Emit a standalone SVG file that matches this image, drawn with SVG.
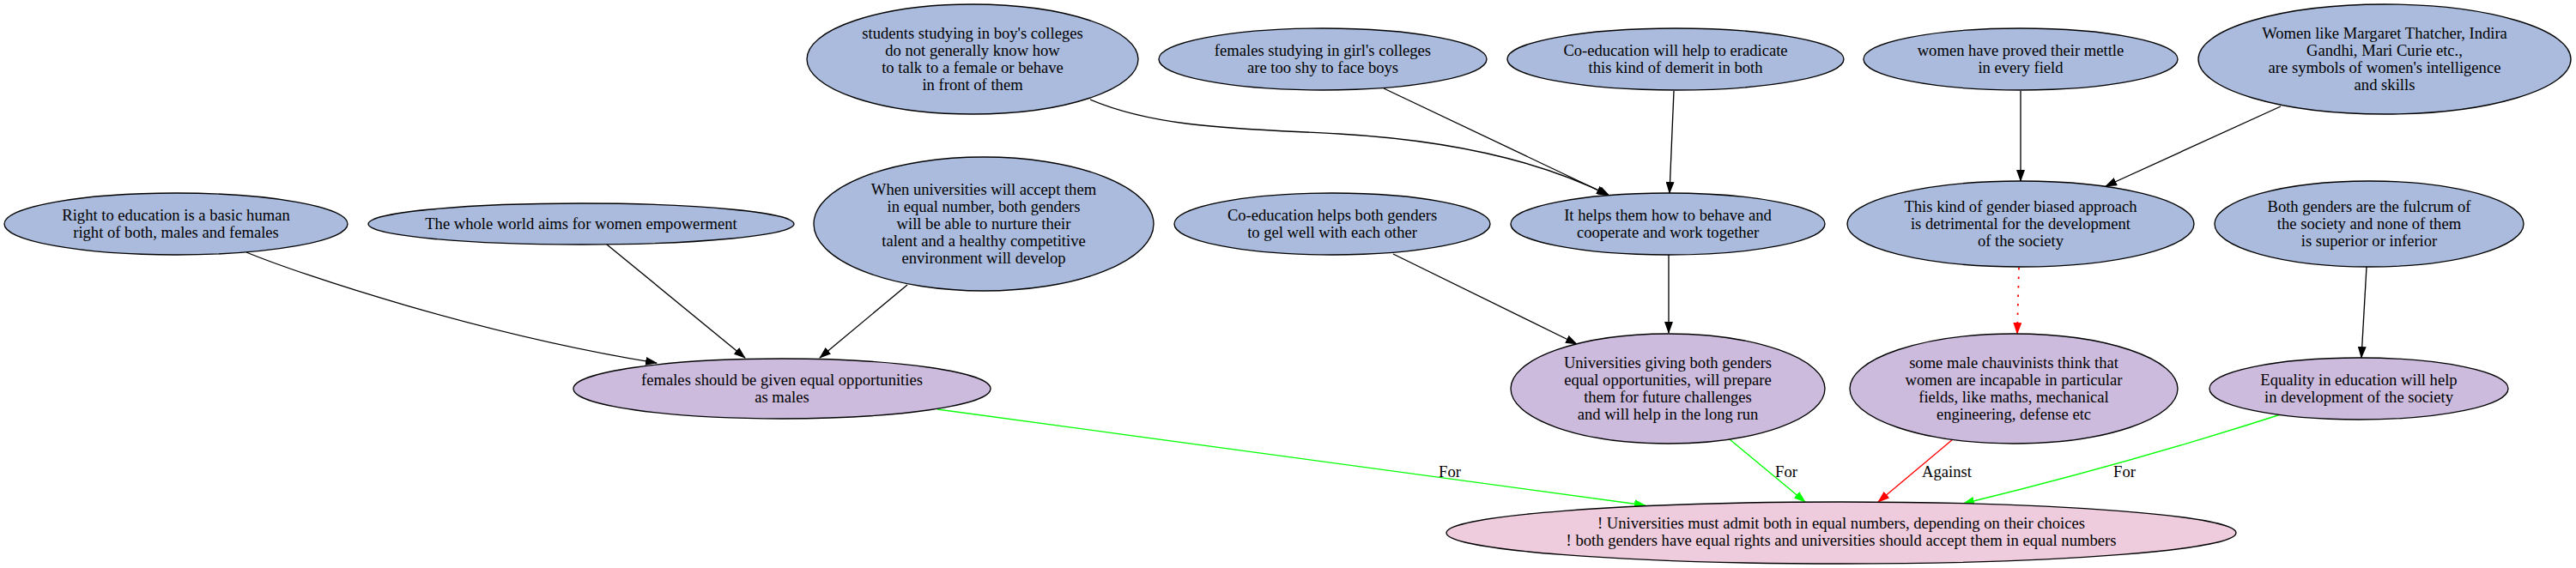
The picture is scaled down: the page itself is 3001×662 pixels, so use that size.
<svg xmlns="http://www.w3.org/2000/svg" width="3001" height="662" viewBox="0 0 3001 662">
<style>
text{font-family:"Liberation Serif","Times New Roman",serif;font-size:18.6px;fill:#000;text-anchor:middle}
.b{fill:#aabbdd;stroke:#000;stroke-width:1.33}
.p{fill:#ccbbdd;stroke:#000;stroke-width:1.33}
.k{fill:#eeccdd;stroke:#000;stroke-width:1.33}
.e{fill:none;stroke:#000;stroke-width:1.33}
.eb{marker-end:url(#ab)}
.g{fill:none;stroke:#00ff00;stroke-width:1.33;marker-end:url(#ag)}
.r{fill:none;stroke:#ff0000;stroke-width:1.33;marker-end:url(#ar)}
.d{stroke-dasharray:2.5 8;stroke-width:1.8}
</style>
<defs>
<marker id="ab" markerUnits="userSpaceOnUse" markerWidth="14" markerHeight="10" viewBox="0 0 14 10" refX="13" refY="5" orient="auto"><path d="M0,0 L14,5 L0,10 z" fill="#000"/></marker>
<marker id="ag" markerUnits="userSpaceOnUse" markerWidth="14" markerHeight="10" viewBox="0 0 14 10" refX="13" refY="5" orient="auto"><path d="M0,0 L14,5 L0,10 z" fill="#00ff00"/></marker>
<marker id="ar" markerUnits="userSpaceOnUse" markerWidth="14" markerHeight="10" viewBox="0 0 14 10" refX="13" refY="5" orient="auto"><path d="M0,0 L14,5 L0,10 z" fill="#ff0000"/></marker>
</defs>
<rect width="3001" height="662" fill="#fff"/>
<g id="connectors">
<path class="e eb" d="M1270,116 C1350,150 1450,150 1560,156 C1680,163 1790,185 1875,228"/>
<path class="e eb" d="M1612,103 L1873,227"/>
<path class="e eb" d="M1950,106 L1945,225"/>
<path class="e eb" d="M2354,106 L2354,211"/>
<path class="e eb" d="M2657,124 L2453,217"/>
<path class="e eb" d="M287,294 C350,320 560,390 765,423"/>
<path class="e eb" d="M707,285 L868,417"/>
<path class="e eb" d="M1057,332 L955,417"/>
<path class="e eb" d="M1623,296 L1837,401"/>
<path class="e eb" d="M1944,297 L1944,388"/>
<path class="r d" d="M2352,312 L2350,389"/>
<path class="e eb" d="M2757,311 L2751,417"/>
<path class="g" d="M1092,477 L1917,589"/>
<text x="1689" y="556">For</text>
<path class="g" d="M2015,512 L2103,585"/>
<text x="2081" y="556">For</text>
<path class="r" d="M2275,512 L2188,585"/>
<text x="2268" y="556">Against</text>
<path class="g" d="M2657,483 Q2480,540 2287,587"/>
<text x="2475" y="556">For</text>
</g>
<g id="n1"><ellipse class="b" cx="1133" cy="69" rx="193" ry="64"/><text x="1133" y="45">students studying in boy's colleges</text><text x="1133" y="65">do not generally know how</text><text x="1133" y="85">to talk to a female or behave</text><text x="1133" y="105">in front of them</text></g>
<g id="n2"><ellipse class="b" cx="1541" cy="69" rx="191" ry="36"/><text x="1541" y="65">females studying in girl's colleges</text><text x="1541" y="85">are too shy to face boys</text></g>
<g id="n3"><ellipse class="b" cx="1952" cy="69" rx="196" ry="36"/><text x="1952" y="65">Co-education will help to eradicate</text><text x="1952" y="85">this kind of demerit in both</text></g>
<g id="n4"><ellipse class="b" cx="2354" cy="69" rx="183" ry="36"/><text x="2354" y="65">women have proved their mettle</text><text x="2354" y="85">in every field</text></g>
<g id="n5"><ellipse class="b" cx="2778" cy="69" rx="217" ry="64"/><text x="2778" y="45">Women like Margaret Thatcher, Indira</text><text x="2778" y="65">Gandhi, Mari Curie etc.,</text><text x="2778" y="85">are symbols of women's intelligence</text><text x="2778" y="105">and skills</text></g>
<g id="n6"><ellipse class="b" cx="205" cy="261" rx="200" ry="36"/><text x="205" y="257">Right to education is a basic human</text><text x="205" y="277">right of both, males and females</text></g>
<g id="n7"><ellipse class="b" cx="677" cy="261" rx="248" ry="24"/><text x="677" y="267">The whole world aims for women empowerment</text></g>
<g id="n8"><ellipse class="b" cx="1146" cy="261" rx="198" ry="78"/><text x="1146" y="227">When universities will accept them</text><text x="1146" y="247">in equal number, both genders</text><text x="1146" y="267">will be able to nurture their</text><text x="1146" y="287">talent and a healthy competitive</text><text x="1146" y="307">environment will develop</text></g>
<g id="n9"><ellipse class="b" cx="1552" cy="261" rx="184" ry="36"/><text x="1552" y="257">Co-education helps both genders</text><text x="1552" y="277">to gel well with each other</text></g>
<g id="n10"><ellipse class="b" cx="1943" cy="261" rx="183" ry="36"/><text x="1943" y="257">It helps them how to behave and</text><text x="1943" y="277">cooperate and work together</text></g>
<g id="n11"><ellipse class="b" cx="2354" cy="261" rx="202" ry="50"/><text x="2354" y="247">This kind of gender biased approach</text><text x="2354" y="267">is detrimental for the development</text><text x="2354" y="287">of the society</text></g>
<g id="n12"><ellipse class="b" cx="2760" cy="261" rx="180" ry="50"/><text x="2760" y="247">Both genders are the fulcrum of</text><text x="2760" y="267">the society and none of them</text><text x="2760" y="287">is superior or inferior</text></g>
<g id="n13"><ellipse class="p" cx="911" cy="453" rx="243" ry="35"/><text x="911" y="449">females should be given equal opportunities</text><text x="911" y="469">as males</text></g>
<g id="n14"><ellipse class="p" cx="1943" cy="453" rx="183" ry="64"/><text x="1943" y="429">Universities giving both genders</text><text x="1943" y="449">equal opportunities, will prepare</text><text x="1943" y="469">them for future challenges</text><text x="1943" y="489">and will help in the long run</text></g>
<g id="n15"><ellipse class="p" cx="2346" cy="453" rx="191" ry="64"/><text x="2346" y="429">some male chauvinists think that</text><text x="2346" y="449">women are incapable in particular</text><text x="2346" y="469">fields, like maths, mechanical</text><text x="2346" y="489">engineering, defense etc</text></g>
<g id="n16"><ellipse class="p" cx="2748" cy="453" rx="174" ry="36"/><text x="2748" y="449">Equality in education will help</text><text x="2748" y="469">in development of the society</text></g>
<g id="n17"><ellipse class="k" cx="2145" cy="621" rx="460" ry="36"/><text x="2145" y="616">! Universities must admit both in equal numbers, depending on their choices</text><text x="2145" y="636">! both genders have equal rights and universities should accept them in equal numbers</text></g>
</svg>
